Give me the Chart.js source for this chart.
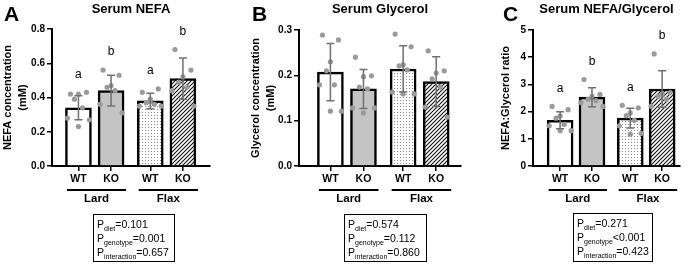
<!DOCTYPE html>
<html lang="en">
<head>
<meta charset="UTF-8">
<title>Serum NEFA and Glycerol</title>
<script src="https://cdn.jsdelivr.net/npm/chart.js"></script>
<style>
  body { margin: 0; background: #fff; }
  #wrap { position: relative; width: 690px; height: 264px; font-family: "Liberation Sans", Arial, sans-serif; }
  #wrap canvas { position: absolute; top: 0; }
  .pbox { position: absolute; border: 1.5px solid #000; box-sizing: border-box; padding: 2px 3px;
          font-size: 10.5px; line-height: 14px; color: #000; white-space: nowrap; }
  .pbox sub { font-size: 7px; vertical-align: -3px; line-height: 0; }
</style>
</head>
<body>
<div id="wrap">
  <canvas id="chartA" width="228" height="264" style="left:0px"></canvas>
  <canvas id="chartB" width="240" height="264" style="left:228px"></canvas>
  <canvas id="chartC" width="222" height="264" style="left:468px"></canvas>

  <div class="pbox" style="left:93px; top:214px; width:82px; height:48px;">
    P<sub>diet</sub>=0.101<br>P<sub>genotype</sub>=0.001<br>P<sub>interaction</sub>=0.657
  </div>
  <div class="pbox" style="left:344px; top:214px; width:83px; height:48px;">
    P<sub>diet</sub>=0.574<br>P<sub>genotype</sub>=0.112<br>P<sub>interaction</sub>=0.860
  </div>
  <div class="pbox" style="left:573px; top:213px; width:80px; height:49px;">
    P<sub>diet</sub>=0.271<br>P<sub>genotype</sub>&lt;0.001<br>P<sub>interaction</sub>=0.423
  </div>
</div>

<script>
// groups: WT Lard, KO Lard, WT Flax, KO Flax
const genotypes = ['WT', 'KO', 'WT', 'KO'];
const diets = ['Lard', 'Flax'];
const letters = ['a', 'b', 'a', 'b'];

// Serum NEFA (mM)
const nefaMean = [0.34, 0.44, 0.38, 0.51];
const nefaSD = [0.07, 0.09, 0.045, 0.12];
const nefaPoints = [
  [0.42, 0.43, 0.42, 0.39, 0.34, 0.28, 0.27, 0.23],
  [0.56, 0.53, 0.47, 0.46, 0.44, 0.36, 0.31],
  [0.43, 0.45, 0.39, 0.37, 0.36, 0.35, 0.35, 0.38],
  [0.68, 0.56, 0.52, 0.49, 0.46, 0.44, 0.35]
];

// Serum glycerol (mM)
const glyMean = [0.207, 0.170, 0.214, 0.186];
const glySD = [0.063, 0.043, 0.051, 0.055];
const glyPoints = [
  [0.289, 0.278, 0.23, 0.21, 0.179, 0.179, 0.121, 0.121],
  [0.24, 0.199, 0.197, 0.174, 0.17, 0.128, 0.128, 0.117],
  [0.291, 0.263, 0.223, 0.221, 0.212, 0.163, 0.159, 0.159],
  [0.254, 0.21, 0.205, 0.192, 0.174, 0.13, 0.108]
];

// NEFA:glycerol ratio
const ratioMean = [1.68, 2.53, 1.76, 2.83];
const ratioSD = [0.31, 0.35, 0.36, 0.67];
const ratioPoints = [
  [2.19, 2.07, 1.84, 1.76, 1.53, 1.48, 1.3, 1.3],
  [3.18, 2.63, 2.56, 2.45, 2.4, 2.33, 2.19],
  [2.23, 2.14, 1.95, 1.85, 1.68, 1.48, 1.2, 1.17],
  [4.12, 2.7, 2.63, 2.56, 2.45, 2.2]
];

const FONT = '"Liberation Sans", Arial, sans-serif';
// bar centres on the x axis: two bars per diet, wider gap between diets
const barPos = [0, 1, 2.2, 3.2];
const jitter = [-8, 8, 0, -4, 4, -11, 11, 0];

function dotPattern() {
  const c = document.createElement('canvas');
  c.width = 3; c.height = 3;
  const g = c.getContext('2d');
  g.fillStyle = '#fff'; g.fillRect(0, 0, 3, 3);
  g.fillStyle = '#8a8a8a'; g.fillRect(1, 1, 1, 1);
  return g.createPattern(c, 'repeat');
}

function hatchPattern() {
  const s = 4;
  const c = document.createElement('canvas');
  c.width = s; c.height = s;
  const g = c.getContext('2d');
  g.fillStyle = '#fff'; g.fillRect(0, 0, s, s);
  g.strokeStyle = '#111'; g.lineWidth = 1.1;
  g.beginPath();
  g.moveTo(0, s); g.lineTo(s, 0);
  g.moveTo(-1, 1); g.lineTo(1, -1);
  g.moveTo(s - 1, s + 1); g.lineTo(s + 1, s - 1);
  g.stroke();
  return g.createPattern(c, 'repeat');
}

const fills = ['#ffffff', '#c4c4c4', dotPattern(), hatchPattern()];

function overlay(p) {
  return {
    id: 'overlay',
    afterDatasetsDraw(chart) {
      const ctx = chart.ctx;
      const area = chart.chartArea;
      const xs = chart.scales.x, ys = chart.scales.y;
      ctx.save();

      // dots and error bars
      p.means.forEach((m, i) => {
        const cx = xs.getPixelForValue(barPos[i]);
        ctx.fillStyle = '#9a9a9a';
        p.points[i].forEach((v, k) => {
          ctx.beginPath();
          ctx.arc(cx + jitter[k % jitter.length], ys.getPixelForValue(v), 2.6, 0, Math.PI * 2);
          ctx.fill();
        });
        const top = ys.getPixelForValue(m + p.sd[i]);
        const bot = ys.getPixelForValue(m - p.sd[i]);
        ctx.strokeStyle = '#707070';
        ctx.lineWidth = 1.5;
        ctx.beginPath();
        ctx.moveTo(cx, top); ctx.lineTo(cx, bot);
        ctx.moveTo(cx - 4, top); ctx.lineTo(cx + 4, top);
        ctx.moveTo(cx - 4, bot); ctx.lineTo(cx + 4, bot);
        ctx.stroke();

        // significance letters (not every panel has them)
        if (p.letters) {
          const highest = Math.min(top, ys.getPixelForValue(Math.max(...p.points[i])));
          ctx.fillStyle = '#000';
          ctx.font = '12px ' + FONT;
          ctx.textAlign = 'center';
          ctx.textBaseline = 'middle';
          ctx.fillText(p.letters[i], cx, highest - 18);
        }
      });

      // diet group lines and labels
      ctx.strokeStyle = '#000';
      ctx.lineWidth = 2;
      ctx.fillStyle = '#000';
      ctx.textAlign = 'center';
      ctx.textBaseline = 'middle';
      ctx.font = 'bold 11.5px ' + FONT;
      diets.forEach((d, j) => {
        const x1 = xs.getPixelForValue(barPos[j * 2]) - 11.5;
        const x2 = xs.getPixelForValue(barPos[j * 2 + 1]) + 15;
        const ly = area.bottom + 24;
        ctx.beginPath();
        ctx.moveTo(x1, ly); ctx.lineTo(x2, ly);
        ctx.stroke();
        ctx.fillText(d, (x1 + x2) / 2, ly + 9);
      });

      // title and panel letter
      ctx.font = 'bold 13px ' + FONT;
      ctx.fillText(p.title, (area.left + area.right) / 2, 9);
      ctx.textAlign = 'left';
      ctx.font = 'bold 21px ' + FONT;
      ctx.fillText(p.panel, p.panelX, 15);
      ctx.restore();
    }
  };
}

function makePanel(id, p) {
  new Chart(document.getElementById(id), {
    type: 'bar',
    data: {
      datasets: [{
        data: p.means.map((m, i) => ({ x: barPos[i], y: m })),
        backgroundColor: fills,
        borderColor: '#000',
        borderWidth: 2.5,
        barThickness: 26
      }]
    },
    options: {
      responsive: false,
      animation: false,
      layout: { padding: { left: 0, right: p.padRight, top: p.padTop, bottom: 74 } },
      plugins: { legend: { display: false }, tooltip: { enabled: false } },
      scales: {
        x: {
          type: 'linear',
          min: p.xMin,
          max: p.xMax,
          offset: false,
          afterBuildTicks: s => { s.ticks = barPos.map(v => ({ value: v })); },
          afterFit: s => { s.height = 24; },
          grid: { drawOnChartArea: false, offset: false, tickLength: 5, color: '#000', lineWidth: 1.5 },
          border: { color: '#000', width: 2 },
          ticks: {
            autoSkip: false, maxRotation: 0, padding: 2, color: '#000',
            font: { family: FONT, size: 10.5, weight: 'bold' },
            callback: (v, i) => genotypes[i]
          }
        },
        y: {
          min: 0,
          max: p.yMax,
          afterFit: s => { s.width = p.yWidth; },
          grid: { drawOnChartArea: false, tickLength: 5, color: '#000', lineWidth: 1.5 },
          border: { color: '#000', width: 2 },
          ticks: {
            stepSize: p.step, padding: 2, color: '#000',
            font: { family: FONT, size: 10, weight: 'bold' },
            callback: v => v.toFixed(p.dec)
          },
          title: {
            display: true, text: p.yTitle, color: '#000',
            font: { family: FONT, size: 11, weight: 'bold', lineHeight: 1.35 },
            padding: { top: p.titlePad, bottom: 0 }
          }
        }
      }
    },
    plugins: [overlay(p)]
  });
}

makePanel('chartA', {
  title: 'Serum NEFA', panel: 'A', panelX: 4, letters: letters,
  means: nefaMean, sd: nefaSD, points: nefaPoints,
  yMax: 0.8, step: 0.2, dec: 1,
  yTitle: ['NEFA concentration', '(mM)'], titlePad: 1,
  yWidth: 52, padRight: 18, padTop: 29, xMin: -0.81, xMax: 4.03
});

makePanel('chartB', {
  title: 'Serum Glycerol', panel: 'B', panelX: 24, letters: null,
  means: glyMean, sd: glySD, points: glyPoints,
  yMax: 0.3, step: 0.1, dec: 1,
  yTitle: ['Glycerol concentration', '(mM)'], titlePad: 21,
  yWidth: 71, padRight: 7, padTop: 30, xMin: -0.95, xMax: 3.95
});

makePanel('chartC', {
  title: 'Serum NEFA/Glycerol', panel: 'C', panelX: 35, letters: letters,
  means: ratioMean, sd: ratioSD, points: ratioPoints,
  yMax: 5, step: 1, dec: 0,
  yTitle: 'NEFA:Glycerol ratio', titlePad: 31,
  yWidth: 65, padRight: 10, padTop: 30, xMin: -0.85, xMax: 3.76
});
</script>
</body>
</html>
